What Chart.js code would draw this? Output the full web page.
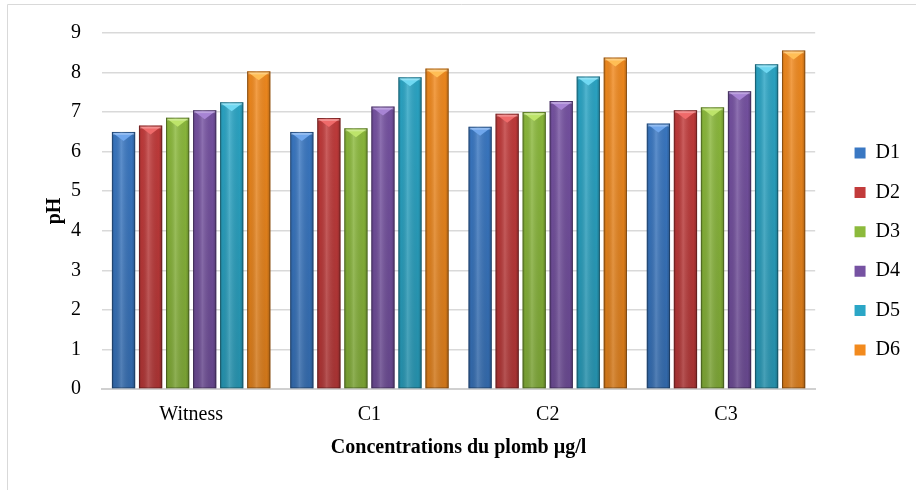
<!DOCTYPE html>
<html>
<head>
<meta charset="utf-8">
<script src="https://cdn.jsdelivr.net/npm/chart.js@4/dist/chart.umd.min.js"></script>
<style>
  html, body { margin: 0; padding: 0; background: #fff; }
  #wrap { width: 916px; height: 490px; position: relative; }
</style>
</head>
<body>
<div id="wrap"><canvas id="ph"></canvas></div>
<script>
// Categories and series.
const categories = ["Witness", "C1", "C2", "C3"];
const seriesNames = ["D1", "D2", "D3", "D4", "D5", "D6"];
const d1 = [6.5, 6.5, 6.63, 6.71];
const d2 = [6.66, 6.85, 6.96, 7.05];
const d3 = [6.86, 6.59, 7.0, 7.12];
const d4 = [7.05, 7.14, 7.28, 7.53];
const d5 = [7.25, 7.88, 7.9, 8.21];
const d6 = [8.03, 8.1, 8.38, 8.56];
const yTicks = [0, 1, 2, 3, 4, 5, 6, 7, 8, 9];

// Office-style palette (base colour + lighter bevel colour).
const BASE = ["#3a78c3", "#c23b3b", "#8cba3c", "#7652a2", "#2ba6c6", "#f28a1e"];
const LIGHT = ["#6fa6ec", "#ef6a6a", "#bde46a", "#a784d4", "#6fd8f2", "#ffbe55"];

const SERIF = '"Liberation Serif", "Times New Roman", serif';
Chart.defaults.font.family = SERIF;
Chart.defaults.color = "#000";

// Light frame round the chart (left and top edges visible in the reference).
const framePlugin = {
  id: "frame",
  beforeDraw(chart) {
    const c = chart.ctx;
    c.save();
    c.strokeStyle = "#d9d9d9";
    c.lineWidth = 1;
    c.beginPath();
    c.moveTo(7.5, chart.height);
    c.lineTo(7.5, 4.5);
    c.lineTo(chart.width, 4.5);
    c.stroke();
    c.restore();
  }
};

// The legend sits further from the plot than labels.padding allows; nudge it.
const legendShift = {
  id: "legendShift",
  afterLayout(chart) {
    const lg = chart.legend;
    if (!lg) return;
    lg.left += 20; lg.right += 20;
    lg.top += 5; lg.bottom += 5;
  }
};

// Cylinder-like shading and a bevelled top on each bar, using the bar elements' own geometry.
const bevelPlugin = {
  id: "bevel",
  afterDatasetsDraw(chart) {
    const c = chart.ctx;
    chart.data.datasets.forEach((ds, di) => {
      const meta = chart.getDatasetMeta(di);
      meta.data.forEach(bar => {
        const { x, y, base, width } = bar.getProps(["x", "y", "base", "width"], true);
        const l = x - width / 2, r = x + width / 2, h = base - y;
        c.save();
        // horizontal shading
        let g = c.createLinearGradient(l, 0, r, 0);
        g.addColorStop(0, "rgba(0,0,0,0.22)");
        g.addColorStop(0.12, "rgba(0,0,0,0.04)");
        g.addColorStop(0.4, "rgba(255,255,255,0.18)");
        g.addColorStop(0.85, "rgba(0,0,0,0.03)");
        g.addColorStop(1, "rgba(0,0,0,0.25)");
        c.fillStyle = g;
        c.fillRect(l, y, width, h);
        // darker toward the base
        g = c.createLinearGradient(0, y, 0, base);
        g.addColorStop(0, "rgba(0,0,0,0)");
        g.addColorStop(1, "rgba(0,0,0,0.12)");
        c.fillStyle = g;
        c.fillRect(l, y, width, h);
        // bevelled top: light strip and a down-pointing facet
        const bh = Math.min(9, h);
        c.fillStyle = LIGHT[di];
        c.beginPath();
        c.moveTo(l + 1, y + 1);
        c.lineTo(r - 1, y + 1);
        c.lineTo(x, y + bh);
        c.closePath();
        c.fill();
        c.fillStyle = "rgba(255,255,255,0.25)";
        c.fillRect(l + 1, y + 1, width - 2, 2);
        // outline
        c.strokeStyle = "rgba(0,0,0,0.28)";
        c.lineWidth = 1;
        c.strokeRect(l + 0.5, y + 0.5, width - 1, h - 1);
        c.restore();
      });
    });
  }
};

const seriesValues = [d1, d2, d3, d4, d5, d6];
const datasets = seriesNames.map((name, i) => ({
  label: name,
  data: seriesValues[i],
  backgroundColor: BASE[i],
  borderWidth: 0,
  barPercentage: 0.86,
  categoryPercentage: 0.91
}));

new Chart(document.getElementById("ph"), {
  type: "bar",
  data: { labels: categories, datasets },
  options: {
    responsive: true,
    maintainAspectRatio: false,
    animation: false,
    layout: { padding: { top: 33, left: 43, right: 26, bottom: 30 } },
    plugins: {
      tooltip: { enabled: false },
      legend: {
        position: "right",
        labels: {
          boxWidth: 11,
          boxHeight: 11,
          padding: 19.4,
          font: { family: SERIF, size: 20 },
          color: "#000"
        }
      }
    },
    scales: {
      x: {
        grid: { display: false, drawTicks: false },
        border: { color: "#d0d0d0", width: 2 },
        ticks: { padding: 14, font: { family: SERIF, size: 20 } },
        afterFit(axis) { axis.height = 71; },
        title: {
          display: true,
          text: "Concentrations du plomb µg/l",
          font: { family: SERIF, size: 20, weight: "bold" },
          padding: { top: 9, bottom: 0 }
        }
      },
      y: {
        min: 0,
        max: 9,
        afterBuildTicks(axis) { axis.ticks = yTicks.map(v => ({ value: v })); },
        afterFit(axis) { axis.width = 59; },
        grid: { color: "#d9d9d9", lineWidth: 1.5, drawTicks: false },
        border: { display: false },
        ticks: { padding: 21, font: { family: SERIF, size: 20 } },
        title: {
          display: true,
          text: "pH",
          font: { family: SERIF, size: 20, weight: "bold" },
          padding: { top: 0, bottom: 4 }
        }
      }
    }
  },
  plugins: [framePlugin, legendShift, bevelPlugin]
});
</script>
</body>
</html>
